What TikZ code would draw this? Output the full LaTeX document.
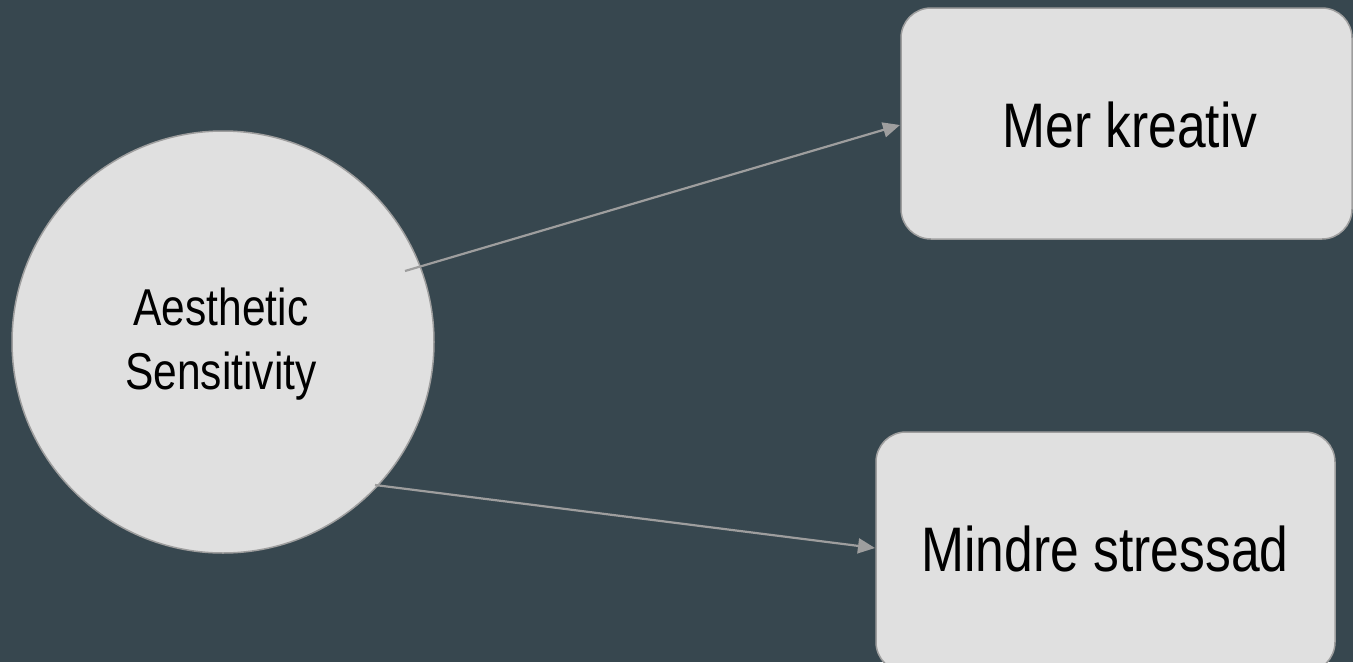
\documentclass[tikz,border=0pt]{standalone}
\usepackage{fontspec}
\setmainfont{Liberation Sans}
\usetikzlibrary{arrows.meta}
\definecolor{bg}{HTML}{37474F}
\definecolor{fillc}{HTML}{E0E0E0}
\definecolor{edge}{HTML}{9E9E9E}
\tikzset{
  shapebox/.style={draw=edge, line width=1.5pt, fill=fillc, rounded corners=30pt},
  conn/.style={draw=edge, line width=2.2pt, -{Triangle[length=17pt,width=15pt]}},
  bigtext/.style={anchor=base, inner sep=0pt, font=\fontsize{51.6}{60}\selectfont},
  circtext/.style={anchor=base, inner sep=0pt, font=\fontsize{42.5}{53}\selectfont},
}
\newcommand{\tallbox}[1]{\scalebox{1}[1.22]{#1}}
\begin{document}
\begin{tikzpicture}[x=1pt,y=-1pt]
\fill[bg] (0,0) rectangle (1353,662);
\useasboundingbox (0,0) rectangle (1353,662);
\node[draw=edge, line width=1.5pt, fill=fillc, circle, minimum size=422pt, inner sep=0pt] (c) at (223,342) {};
\node[circtext] (ct) at (221,325) {\tallbox{\begin{tabular}[t]{@{}c@{}}Aesthetic\\Sensitivity\end{tabular}}};
\draw[shapebox] (901,8) rectangle (1352,239);
\node[bigtext] (b1) at (1130,147) {\tallbox{Mer kreativ}};
\draw[shapebox] (876,432) rectangle (1335,672);
\node[bigtext] (b2) at (1105,571) {\tallbox{Mindre stressad}};
\coordinate (s1) at (405,271);
\coordinate (e1) at (900,125);
\coordinate (s2) at (375,485);
\coordinate (e2) at (875,548);
\draw[conn] (s1) -- (e1);
\draw[conn] (s2) -- (e2);
\end{tikzpicture}
\end{document}
